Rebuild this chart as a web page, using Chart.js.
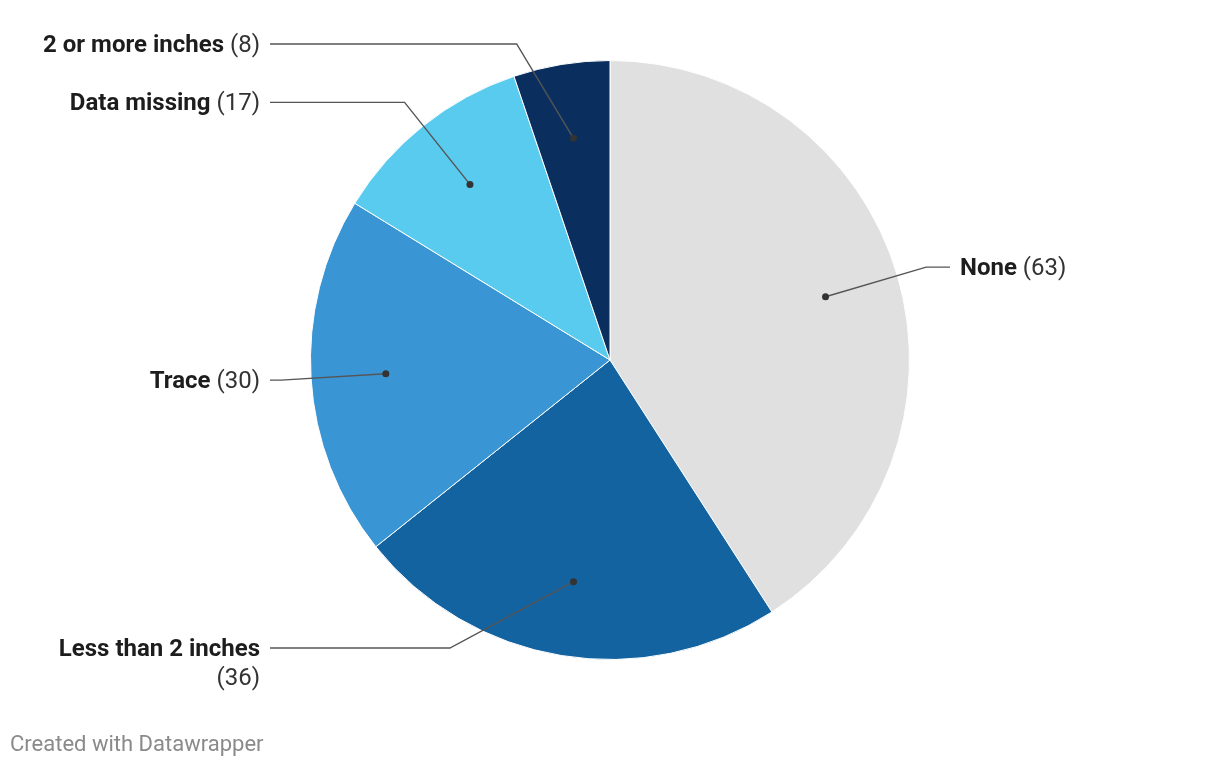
<!DOCTYPE html>
<html>
<head>
<meta charset="utf-8">
<script src="https://cdn.jsdelivr.net/npm/chart.js@4/dist/chart.umd.min.js"></script>
<style>
  body { margin: 0; background: #fff; font-family: Roboto, sans-serif; }
  #wrap { position: relative; width: 1220px; height: 766px; }
  #footer { position: absolute; left: 10px; top: 731px; font-size: 22px; color: #8a8a8a; font-family: Roboto, sans-serif; }
</style>
</head>
<body>
<div id="wrap">
  <canvas id="chart"></canvas>
  <div id="footer">Created with Datawrapper</div>
</div>
<script>
const categories = ["None", "Less than 2 inches", "Trace", "Data missing", "2 or more inches"];
const values = [63, 36, 30, 17, 8];
const colors = ["#e0e0e0", "#1463a1", "#3a95d4", "#59cbee", "#0a2f5f"];

const FONT = "Roboto, sans-serif";
const FONT_SIZE = 24;
const LABEL_MAX_WIDTH = 235;

// leader lines + labels, roughly like Datawrapper does it
const leaderLabels = {
  id: "leaderLabels",
  afterDatasetsDraw(chart) {
    const ctx = chart.ctx;
    const meta = chart.getDatasetMeta(0);
    const bold = `700 ${FONT_SIZE}px ${FONT}`;
    const reg = `400 ${FONT_SIZE}px ${FONT}`;
    const lineH = 29;

    meta.data.forEach((arc, i) => {
      const { x: cx, y: cy, startAngle, endAngle, outerRadius } = arc.getProps(["x", "y", "startAngle", "endAngle", "outerRadius"], true);
      const mid = (startAngle + endAngle) / 2;
      const dotR = outerRadius * 0.75;
      const dx = cx + Math.cos(mid) * dotR;
      const dy = cy + Math.sin(mid) * dotR;
      const elbowR = outerRadius + 30;
      let ey = cy + Math.sin(mid) * elbowR;
      ey = Math.min(Math.max(ey, cy - 316), cy + 288);
      const right = Math.cos(mid) >= 0;
      const ex = cx + (right ? 1 : -1) * Math.sqrt(Math.max(elbowR * elbowR - (ey - cy) * (ey - cy), 0));
      const endX = right ? cx + 340 : cx - 340;
      const textX = right ? endX + 10 : endX - 10;

      ctx.save();
      ctx.strokeStyle = "#555";
      ctx.lineWidth = 1.4;
      ctx.beginPath();
      ctx.moveTo(dx, dy);
      ctx.lineTo(ex, ey);
      ctx.lineTo(endX, ey);
      ctx.stroke();
      ctx.fillStyle = "#333";
      ctx.beginPath();
      ctx.arc(dx, dy, 3.5, 0, Math.PI * 2);
      ctx.fill();

      const label = categories[i];
      const val = `(${values[i]})`;
      const ty = ey + 2;
      ctx.textBaseline = "middle";
      ctx.font = bold;
      const wl = ctx.measureText(label).width;
      ctx.font = reg;
      const wsp = ctx.measureText(" ").width;
      const wv = ctx.measureText(val).width;
      const oneLine = wl + wsp + wv <= LABEL_MAX_WIDTH;

      if (oneLine) {
        const x0 = right ? textX : textX - (wl + wsp + wv);
        ctx.textAlign = "left";
        ctx.font = bold;
        ctx.fillStyle = "#1d1d1d";
        ctx.fillText(label, x0, ty);
        ctx.font = reg;
        ctx.fillStyle = "#333";
        ctx.fillText(val, x0 + wl + wsp, ty);
      } else {
        ctx.textAlign = right ? "left" : "right";
        ctx.font = bold;
        ctx.fillStyle = "#1d1d1d";
        ctx.fillText(label, textX, ty);
        ctx.font = reg;
        ctx.fillStyle = "#333";
        ctx.fillText(val, textX, ty + lineH);
      }
      ctx.restore();
    });
  }
};

new Chart(document.getElementById("chart"), {
  type: "pie",
  data: {
    labels: categories,
    datasets: [{
      data: values,
      backgroundColor: colors,
      borderColor: "#ffffff",
      borderWidth: 1,
    }]
  },
  options: {
    responsive: true,
    maintainAspectRatio: false,
    animation: false,
    events: [],
    layout: { padding: { top: 60, bottom: 106, left: 0, right: 0 } },
    plugins: {
      legend: { display: false },
      tooltip: { enabled: false },
    }
  },
  plugins: [leaderLabels]
});
</script>
</body>
</html>
